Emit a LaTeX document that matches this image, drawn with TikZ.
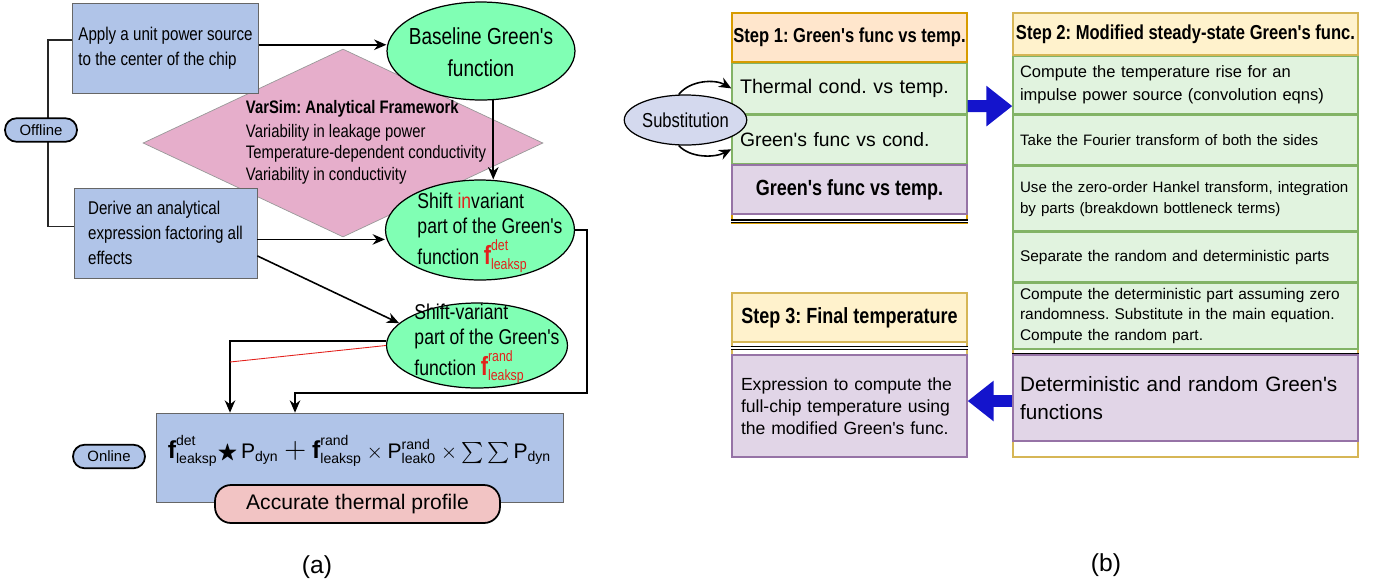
\documentclass[tikz,border=0pt]{standalone}
\usepackage{amsmath,amssymb}
\usepackage{fontspec}
\setmainfont{Liberation Sans}[Ligatures=TeXOff]
\newfontfamily\narrowfont{Liberation Sans}[FakeStretch=0.82, Ligatures=TeXOff]
\frenchspacing
\usetikzlibrary{shapes.geometric,arrows.meta,calc,positioning}
\definecolor{boxblue}{HTML}{B0C4E8}
\definecolor{fwpink}{HTML}{E6AECB}
\definecolor{mint}{HTML}{80FFB4}
\definecolor{accpink}{HTML}{F2C4C4}
\definecolor{subblue}{HTML}{D4D9EE}
\definecolor{hdorange}{HTML}{FFE6CC}
\definecolor{hdorangeline}{HTML}{D79B00}
\definecolor{hdyellow}{HTML}{FFF2CC}
\definecolor{hdyellowline}{HTML}{D6B656}
\definecolor{rowgreen}{HTML}{E1F3DF}
\definecolor{rowgreenline}{HTML}{82B366}
\definecolor{rowpurple}{HTML}{E1D5E7}
\definecolor{rowpurpleline}{HTML}{9673A6}
\definecolor{arrblue}{HTML}{1414CC}
\definecolor{txtred}{HTML}{E3211C}
\newcommand{\fleak}[2]{\text{\fontsize{#2}{#2}\selectfont\bfseries f}^{\text{#1}}_{\text{leaksp}}}

\begin{document}
\begin{tikzpicture}[x=0.02cm, y=-0.02cm, every node/.style={font=\narrowfont}]
        \tikzset{
            box/.style={draw=black!60, fill=boxblue, minimum width=3.66cm, minimum height=1.8cm, align=left, font=\narrowfont\fontsize{10.5}{14.2}\selectfont},
            pill/.style={draw, line width=1pt, fill=boxblue, rounded corners=0.23cm, minimum width=1.44cm, minimum height=0.47cm, inner sep=0pt, font=\fontsize{8.5}{10}\selectfont},
            gfun/.style={draw, line width=0.7pt, fill=mint, ellipse, inner sep=0pt},
            gtxt/.style={align=left, font=\narrowfont\fontsize{12.2}{14.2}\selectfont},
            arr/.style={line width=0.9pt, -{Stealth[length=7pt, width=6pt]}},
            barrow/.style={color=arrblue, line width=0.24cm, -{Triangle[length=0.52cm, width=0.78cm]}},
            hcell/.style={line width=0.8pt, inner sep=0pt, font=\narrowfont\bfseries\fontsize{11.5}{13}\selectfont},
            gcell/.style={draw=rowgreenline, fill=rowgreen, line width=0.8pt, inner ysep=1pt},
            pcell/.style={draw=rowpurpleline, fill=rowpurple, line width=0.8pt, inner ysep=1pt},
            broad/.style={minimum width=6.9cm, text width=6.62cm, inner xsep=0.14cm, align=left},
            slim/.style={minimum width=4.7cm},
            dsep/.style={double, double distance=1pt, line width=0.6pt},
            caption/.style={font=\fontsize{14}{16}\selectfont}
        }
        \useasboundingbox (0,0) rectangle (1380,586);
        \node[draw=black!40, fill=fwpink, diamond, minimum width=8cm, minimum height=3.76cm, inner sep=0pt] (fw) at (343,143) {};
        \node[align=left, font=\narrowfont\fontsize{10.3}{12}\selectfont] (fwtxt) at (366,142) {{\bfseries VarSim: Analytical Framework}\\[2pt]Variability in leakage power\\Temperature-dependent conductivity\\Variability in conductivity};
        \node[box] (app) at (165.5,48) {Apply a unit power source\\to the center of the chip};
        \node[box] (der) at (165.5,233) {Derive an analytical\\expression factoring all\\effects};
        \draw[line width=1pt, black!85] (app.175.6) -- ++(-24,0) |- (der.176.9);
        \node[pill] (off) at (41,130) {Offline};
        \node[gfun, minimum width=3.76cm, minimum height=1.96cm] (base) at (481,51) {};
        \node[align=center, font=\narrowfont\fontsize{13.2}{18}\selectfont] (basetxt) at (481,52) {Baseline Green's\\function};
        \node[gfun, minimum width=3.78cm, minimum height=2cm] (sinv) at (480,230) {};
        \node[gtxt] (sinvtxt) at (490,233) {Shift {\color{txtred}in}variant\\part of the Green's\\function {\color{txtred}$\fleak{det}{15}$}};
        \node[gfun, minimum width=3.62cm, minimum height=1.7cm] (svar) at (477,345.5) {};
        \node[gtxt] (svartxt) at (487,344) {Shift-variant\\part of the Green's\\function {\color{txtred}$\fleak{rand}{15}$}};
        \node[draw=black!60, fill=boxblue, minimum width=8.14cm, minimum height=1.78cm] (fml) at (359.5,457.5) {};
        \node[font=\fontsize{12}{14}\selectfont] (fmltxt) at (359.5,451) {$\fleak{det}{14}\bigstar\,\text{P}_{\text{dyn}}\;\text{\LARGE$+$}\;\fleak{rand}{14}\times\text{P}^{\text{rand}}_{\text{leak0}}\times\sum\sum\text{P}_{\text{dyn}}$};
        \node[draw, line width=1pt, fill=accpink, rounded corners=0.32cm, minimum width=5.7cm, minimum height=0.76cm, font=\fontsize{12}{14}\selectfont] (acc) at (357.5,504) {Accurate thermal profile};
        \node[pill] (onl) at (109,456.5) {Online};
        \coordinate (c1) at (587,393);
        \coordinate (c2) at (295,393);
        \coordinate (c3) at (230,362);
        \draw[arr] (app.2) -- (app.2 -| base.west);
        \draw[arr] (base.-76) -- (base.-76 |- sinv.north);
        \draw[arr] (der.-4) -- (der.-4 -| sinv.west);
        \draw[arr] (der.-14) -- (svar.164);
        \draw[arr] (sinv.east) -| (c1) -- (c2) -- (c2 |- fml.north);
        \draw[arr] (svar.177) -- (svar.177 -| c3) -- (c3 |- fml.north);
        \draw[txtred, line width=0.5pt] (svar.west) -- (c3);
        \node[caption] (capa) at (317,567) {(a)};
        \draw[hdorangeline, line width=0.8pt] (732,13) rectangle (967,223);
        \node[hcell, draw=hdorangeline, fill=hdorange, slim, minimum height=0.98cm] (s1h) at (849.5,37.5) {Step 1: Green's func vs temp.};
        \node[gcell, slim, minimum height=1cm, text width=4.38cm, inner xsep=0.16cm, align=left, below=0pt of s1h, font=\fontsize{11.2}{13}\selectfont] (s1a) {Thermal cond. vs temp.};
        \node[gcell, slim, minimum height=0.98cm, text width=4.38cm, inner xsep=0.16cm, align=left, below=0pt of s1a, font=\fontsize{11}{13}\selectfont] (s1b) {Green's func vs cond.};
        \node[pcell, slim, minimum height=0.98cm, below=0pt of s1b, font=\narrowfont\bfseries\fontsize{12.5}{14}\selectfont] (s1c) {Green's func vs temp.};
        \draw[dsep] ($(s1c.south west)+(0,6.5)$) -- ($(s1c.south east)+(0,6.5)$);
        \node[draw, line width=0.7pt, fill=subblue, ellipse, minimum width=1.9cm, minimum height=1cm, inner sep=0pt, font=\narrowfont\fontsize{11.5}{13}\selectfont] (sub) at (685.5,120) {Substitution};
        \draw[arr] (sub.105) .. controls (690,80) and (715,79) .. (s1a.west);
        \draw[arr] (sub.255) .. controls (690,158) and (714,158) .. ($(s1b.west)+(0,10)$);
        \draw[hdyellowline, line width=0.8pt] (1013,13) rectangle (1358,457);
        \node[hcell, draw=hdyellowline, fill=hdyellow, minimum width=6.9cm, minimum height=0.84cm] (s2h) at (1185.5,34) {Step 2: Modified steady-state Green's func.};
        \node[gcell, broad, minimum height=1.14cm, below=0pt of s2h, font=\fontsize{9.4}{13}\selectfont] (s2a) {Compute the temperature rise for an\\impulse power source (convolution eqns)};
        \node[gcell, broad, minimum height=1cm, below=0pt of s2a, font=\fontsize{8.6}{12}\selectfont] (s2b) {Take the Fourier transform of both the sides};
        \node[gcell, broad, minimum height=1.3cm, below=0pt of s2b, font=\fontsize{8.6}{12}\selectfont] (s2c) {Use the zero-order Hankel transform, integration\\by parts (breakdown bottleneck terms)};
        \node[gcell, broad, minimum height=0.98cm, below=0pt of s2c, font=\fontsize{8.8}{12}\selectfont] (s2d) {Separate the random and deterministic parts};
        \node[gcell, broad, minimum height=1.32cm, below=0pt of s2d, font=\fontsize{8.8}{11.6}\selectfont] (s2e) {Compute the deterministic part assuming zero\\randomness. Substitute in the main equation.\\Compute the random part.};
        \draw[dsep] ($(s2e.south west)+(0,5)$) -- ($(s2e.south east)+(0,5)$);
        \node[pcell, broad, minimum height=1.72cm, font=\fontsize{11.8}{16}\selectfont] (s2p) at (1185.5,398) {Deterministic and random Green's\\functions};
        \draw[hdyellowline, line width=0.8pt] (732,293) rectangle (967,457);
        \node[hcell, draw=hdyellowline, fill=hdyellow, slim, minimum height=0.98cm, font=\narrowfont\bfseries\fontsize{12.5}{14}\selectfont] (s3h) at (849.5,317.5) {Step 3: Final temperature};
        \draw[dsep] ($(s3h.south west)+(0,5)$) -- ($(s3h.south east)+(0,5)$);
        \node[pcell, slim, minimum height=2.04cm, text width=4.34cm, inner xsep=0.18cm, align=left, font=\fontsize{10}{12.5}\selectfont] (s3p) at (849.5,406) {Expression to compute the\\full-chip temperature using\\the modified Green's func.};
        \draw[barrow] ($(s1a.south east)+(0,-8)$) -- ($(s2a.south west)+(0,-8)$);
        \draw[barrow] ($(s2p.west)+(0,3)$) -- ($(s3p.east)+(0,-5)$);
        \node[caption] (capb) at (1106,565) {(b)};
    \end{tikzpicture}
\end{document}
